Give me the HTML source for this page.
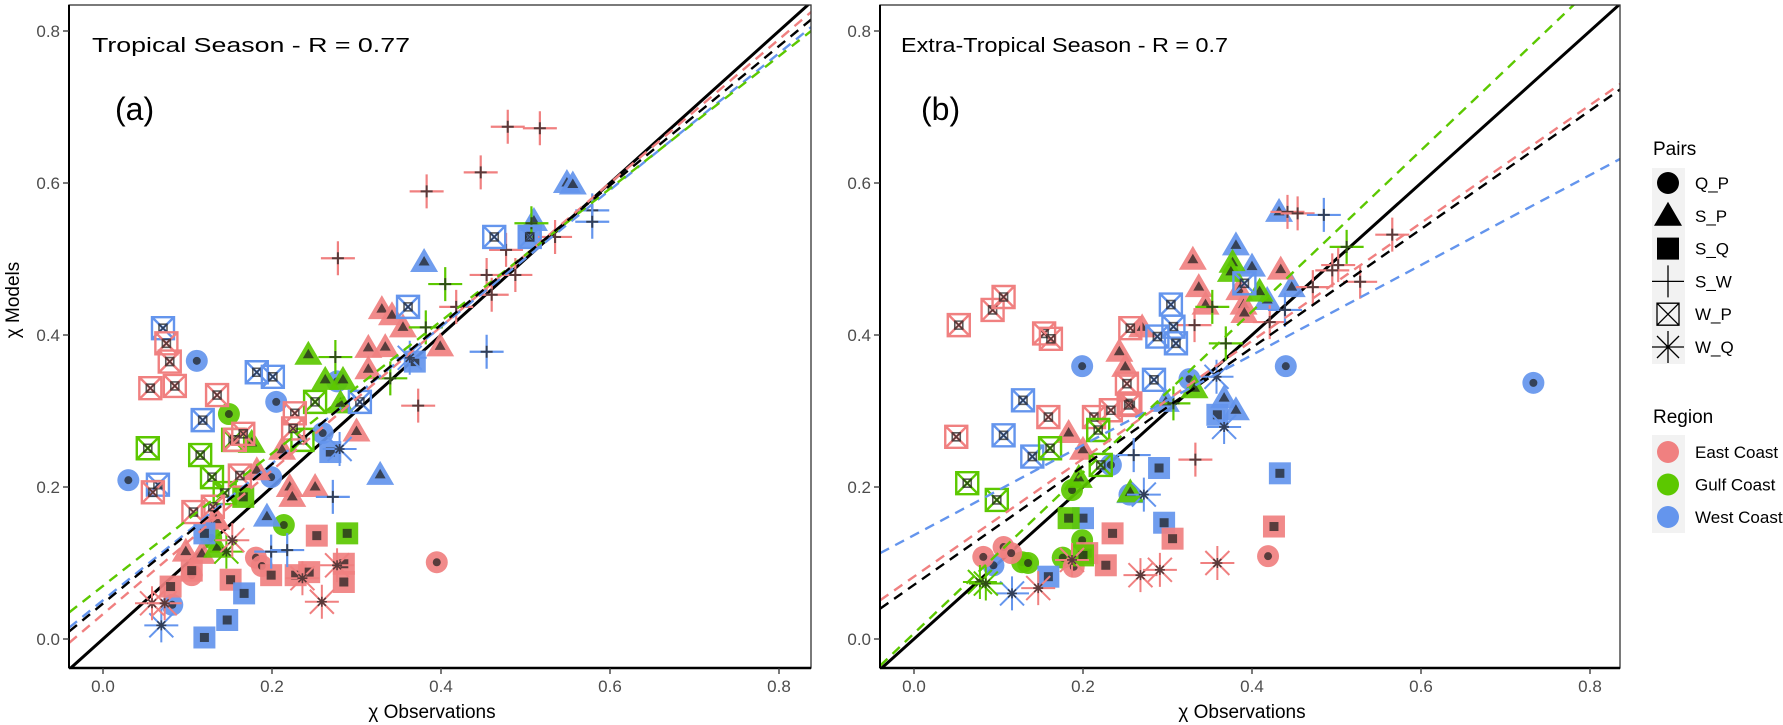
<!DOCTYPE html>
<html><head><meta charset="utf-8">
<style>
html,body{margin:0;padding:0;background:#fff;}
svg{display:block;font-family:"Liberation Sans",sans-serif;}
</style></head>
<body>
<svg id="chart" width="1783" height="725" viewBox="0 0 1783 725" xmlns="http://www.w3.org/2000/svg">
<defs>
<clipPath id="clipA"><rect x="69" y="5" width="742" height="663"/></clipPath>
<clipPath id="clipB"><rect x="880" y="5" width="740" height="663"/></clipPath>
</defs>
<g id="panelA"></g>
<g id="panelB"></g>
<g id="legend"></g>
</svg>
<script>
// ---------- data (values in chi units) ----------
const ticks = [0.0, 0.2, 0.4, 0.6, 0.8];
const tickLabels = ["0.0", "0.2", "0.4", "0.6", "0.8"];
const pairNames = ["Q_P", "S_P", "S_Q", "S_W", "W_P", "W_Q"];
const regionNames = ["East Coast", "Gulf Coast", "West Coast"];

// Panel (a) Tropical season: [region, obs, model]
const aQP = [["E",0.395,0.101],["E",0.181,0.107],["E",0.188,0.096],["E",0.105,0.084],["W",0.111,0.366],["W",0.205,0.312],["W",0.277,0.339],["W",0.26,0.271],["W",0.03,0.209],["W",0.199,0.213],["W",0.082,0.045],["G",0.149,0.296],["G",0.214,0.15],["G",0.128,0.133]];
const aSP = [["E",0.33,0.434],["E",0.342,0.426],["E",0.355,0.41],["E",0.314,0.383],["E",0.334,0.384],["E",0.399,0.385],["E",0.314,0.355],["E",0.3,0.273],["E",0.212,0.249],["E",0.182,0.222],["E",0.221,0.2],["E",0.251,0.2],["E",0.224,0.187],["E",0.132,0.159],["E",0.098,0.115],["E",0.117,0.112],["E",0.134,0.157],["W",0.549,0.6],["W",0.556,0.598],["W",0.38,0.496],["W",0.328,0.216],["W",0.194,0.161],["W",0.51,0.55],["G",0.243,0.374],["G",0.263,0.341],["G",0.284,0.341],["G",0.281,0.31],["G",0.176,0.258],["G",0.135,0.12]];
const aSQ = [["E",0.253,0.136],["E",0.199,0.084],["E",0.228,0.084],["E",0.244,0.088],["E",0.285,0.099],["E",0.285,0.075],["E",0.151,0.078],["E",0.08,0.069],["E",0.105,0.09],["W",0.505,0.53],["W",0.369,0.365],["W",0.269,0.246],["W",0.12,0.002],["W",0.147,0.025],["W",0.167,0.06],["W",0.12,0.139],["G",0.166,0.187],["G",0.289,0.139]];
const aSW = [["E",0.479,0.674],["E",0.517,0.672],["E",0.447,0.614],["E",0.383,0.589],["E",0.278,0.501],["E",0.477,0.512],["E",0.535,0.529],["E",0.488,0.479],["E",0.454,0.479],["E",0.46,0.453],["E",0.418,0.437],["E",0.373,0.307],["G",0.405,0.467],["G",0.382,0.41],["G",0.275,0.371],["G",0.507,0.547],["G",0.34,0.343],["W",0.579,0.564],["W",0.579,0.549],["W",0.454,0.378],["W",0.272,0.187],["W",0.199,0.115],["W",0.218,0.117]];
const aWP = [["W",0.463,0.529],["W",0.505,0.529],["W",0.361,0.437],["W",0.071,0.409],["W",0.182,0.351],["W",0.201,0.345],["W",0.118,0.288],["W",0.304,0.312],["W",0.065,0.203],["G",0.053,0.251],["G",0.115,0.242],["G",0.129,0.213],["G",0.144,0.192],["G",0.154,0.262],["G",0.251,0.312],["G",0.236,0.262],["E",0.075,0.389],["E",0.079,0.365],["E",0.056,0.33],["E",0.085,0.333],["E",0.135,0.321],["E",0.059,0.193],["E",0.227,0.297],["E",0.225,0.277],["E",0.156,0.262],["E",0.166,0.27],["E",0.107,0.167],["E",0.13,0.174],["E",0.162,0.215]];
const aWQ = [["W",0.363,0.37],["W",0.28,0.25],["W",0.069,0.018],["G",0.146,0.115],["E",0.058,0.047],["E",0.073,0.047],["E",0.236,0.08],["E",0.277,0.097],["E",0.259,0.049],["E",0.153,0.13]];
// fit lines panel (a): [region, y at x=-0.04, y at x=0.838]
const aFits = [["E",-0.005,0.825],["W",0.015,0.805],["G",0.035,0.8],["K",0.01,0.815]];

// Panel (b) Extra-tropical season
const bQP = [["W",0.199,0.359],["W",0.44,0.359],["W",0.326,0.342],["W",0.733,0.337],["W",0.233,0.229],["W",0.255,0.19],["W",0.094,0.097],["G",0.187,0.196],["G",0.199,0.13],["G",0.176,0.107],["G",0.128,0.101],["G",0.135,0.1],["E",0.106,0.121],["E",0.115,0.113],["E",0.419,0.109],["E",0.189,0.095],["E",0.082,0.108]];
const bSP = [["W",0.432,0.562],["W",0.381,0.518],["W",0.4,0.49],["W",0.447,0.463],["W",0.418,0.446],["W",0.367,0.317],["W",0.381,0.301],["W",0.298,0.312],["W",0.256,0.192],["E",0.33,0.499],["E",0.337,0.463],["E",0.345,0.44],["E",0.385,0.459],["E",0.39,0.44],["E",0.434,0.486],["E",0.391,0.429],["E",0.243,0.378],["E",0.25,0.358],["E",0.27,0.41],["E",0.183,0.271],["E",0.2,0.249],["G",0.377,0.495],["G",0.375,0.483],["G",0.409,0.457],["G",0.332,0.33],["G",0.195,0.212],["G",0.256,0.193]];
const bSQ = [["W",0.359,0.295],["W",0.29,0.225],["W",0.433,0.218],["W",0.2,0.159],["W",0.296,0.153],["W",0.159,0.082],["E",0.235,0.139],["E",0.306,0.132],["E",0.426,0.148],["E",0.227,0.097],["E",0.205,0.113],["G",0.183,0.159],["G",0.2,0.11]];
const bSW = [["E",0.442,0.562],["E",0.454,0.56],["E",0.566,0.532],["E",0.528,0.47],["E",0.502,0.492],["E",0.495,0.485],["E",0.472,0.463],["E",0.421,0.417],["E",0.332,0.413],["E",0.333,0.236],["W",0.485,0.558],["W",0.439,0.433],["W",0.26,0.242],["G",0.512,0.516],["G",0.353,0.437],["G",0.369,0.389],["G",0.307,0.31]];
const bWP = [["W",0.304,0.44],["W",0.307,0.411],["W",0.288,0.398],["W",0.31,0.389],["W",0.391,0.468],["W",0.284,0.341],["W",0.129,0.314],["W",0.106,0.268],["W",0.14,0.24],["E",0.053,0.413],["E",0.093,0.433],["E",0.106,0.45],["E",0.154,0.402],["E",0.162,0.395],["E",0.256,0.409],["E",0.252,0.336],["E",0.256,0.31],["E",0.05,0.266],["E",0.159,0.292],["E",0.213,0.292],["E",0.233,0.301],["E",0.254,0.308],["G",0.063,0.205],["G",0.098,0.183],["G",0.161,0.251],["G",0.218,0.275],["G",0.221,0.229]];
const bWQ = [["W",0.358,0.345],["W",0.367,0.279],["W",0.272,0.19],["W",0.116,0.06],["G",0.078,0.075],["G",0.085,0.073],["E",0.147,0.067],["E",0.268,0.084],["E",0.291,0.091],["E",0.359,0.1],["E",0.187,0.104]];
const bFits = [["E",0.051,0.732],["K",0.04,0.725],["W",0.113,0.633],["G",-0.035,0.895]];

// ---------- rendering ----------
const NS = "http://www.w3.org/2000/svg";
const COL = {E:"#F08080", G:"#5CC800", W:"#6495ED", K:"#000"};
const DARK = "rgba(30,30,30,0.72)";
const YMIN=-0.04, YMAX=0.838;
function yScale(v){ return 639 - 760*v; }
function mk(tag, attrs, parent){
  const e=document.createElementNS(NS,tag);
  for(const k in attrs) e.setAttribute(k,attrs[k]);
  if(parent) parent.appendChild(e);
  return e;
}
function drawMarker(g, type, x, y, c){
  const grp = mk("g",{},g);
  
  
  if(type==="Q_P"){
    mk("circle",{cx:x,cy:y,r:11,fill:c,"fill-opacity":0.92},grp);
    mk("circle",{cx:x,cy:y,r:4,fill:DARK},grp);
  } else if(type==="S_P"){
    mk("polygon",{points:`${x},${y-14} ${x-14},${y+10} ${x+14},${y+10}`,fill:c,"fill-opacity":0.92},grp);
    mk("polygon",{points:`${x},${y-6} ${x-5.5},${y+3.5} ${x+5.5},${y+3.5}`,fill:DARK},grp);
  } else if(type==="S_Q"){
    mk("rect",{x:x-11,y:y-11,width:22,height:22,fill:c,"fill-opacity":0.92},grp);
    mk("rect",{x:x-4.5,y:y-4.5,width:9,height:9,fill:DARK},grp);
  } else if(type==="S_W"){
    mk("path",{d:`M${x-17},${y}H${x+17}M${x},${y-17}V${y+17}`,stroke:c,"stroke-width":2.2,fill:"none"},grp);
    mk("path",{d:`M${x-6},${y}H${x+6}M${x},${y-6}V${y+6}`,stroke:DARK,"stroke-width":2,fill:"none"},grp);
  } else if(type==="W_P"){
    mk("path",{d:`M${x-11},${y-11}h22v22h-22zM${x-11},${y-11}L${x+11},${y+11}M${x+11},${y-11}L${x-11},${y+11}`,stroke:c,"stroke-width":2.4,fill:"none"},grp);
    mk("path",{d:`M${x-4},${y-4}h8v8h-8zM${x-4},${y-4}L${x+4},${y+4}M${x+4},${y-4}L${x-4},${y+4}`,stroke:DARK,"stroke-width":1.6,fill:"none"},grp);
  } else {
    const r=17, d=12;
    mk("path",{d:`M${x-r},${y}H${x+r}M${x},${y-r}V${y+r}M${x-d},${y-d}L${x+d},${y+d}M${x+d},${y-d}L${x-d},${y+d}`,stroke:c,"stroke-width":2,fill:"none"},grp);
    mk("path",{d:`M${x-5},${y}H${x+5}M${x},${y-5}V${y+5}M${x-4},${y-4}L${x+4},${y+4}M${x+4},${y-4}L${x-4},${y+4}`,stroke:DARK,"stroke-width":1.6,fill:"none"},grp);
  }
}
function drawPanel(g, X0, left, right, clip, series, fits, title, tag, titleX, tagX, titleLen){
  const xs = v => X0 + 845*v;
  // title & tag
  const t = mk("text",{x:titleX,y:52,"font-size":20,fill:"#000",textLength:titleLen,lengthAdjust:"spacingAndGlyphs"},g);
  t.textContent = title;
  
  
  const tg = mk("text",{x:tagX,y:120,"font-size":32,fill:"#000"},g);
  tg.textContent = tag;
  
  
  const pg = mk("g",{"clip-path":`url(#${clip})`},g);
  
  
  // 1:1 line
  const one = mk("line",{x1:xs(YMIN),y1:yScale(YMIN),x2:xs(YMAX),y2:yScale(YMAX),stroke:"#000","stroke-width":3},pg);
  
  
  // points
  series.forEach((arr,i)=>{
    arr.forEach(p=>drawMarker(pg, pairNames[i], xs(p[1]), yScale(p[2]), COL[p[0]]));
  });
  // fit lines
  fits.forEach(f=>{
    const l = mk("line",{x1:xs(YMIN),y1:yScale(f[1]),x2:xs(YMAX),y2:yScale(f[2]),stroke:COL[f[0]],"stroke-width":2.4,"stroke-dasharray":"10,7"},pg);
    
    
  });
  // frame
  const fr = mk("rect",{x:left,y:5,width:right-left,height:663,fill:"none",stroke:"#333","stroke-width":1.3},g);
  
  
  mk("line",{x1:left,y1:668,x2:right,y2:668,stroke:"#000","stroke-width":2.5},g);
  mk("line",{x1:left,y1:5,x2:left,y2:668,stroke:"#000","stroke-width":2},g);
  // ticks
  ticks.forEach((v,i)=>{
    mk("line",{x1:xs(v),y1:668,x2:xs(v),y2:674,stroke:"#333","stroke-width":1.3},g);
    const xl = mk("text",{x:xs(v),y:692,"font-size":17,fill:"#4d4d4d","text-anchor":"middle"},g);
    xl.textContent = tickLabels[i];
    
    
    mk("line",{x1:left-6,y1:yScale(v),x2:left,y2:yScale(v),stroke:"#333","stroke-width":1.3},g);
    const yl = mk("text",{x:left-9,y:yScale(v)+6,"font-size":17,fill:"#4d4d4d","text-anchor":"end"},g);
    yl.textContent = tickLabels[i];
    
    
  });
  const xt = mk("text",{x:(left+right)/2-8,y:718,"font-size":19,fill:"#000","text-anchor":"middle"},g);
  xt.textContent = "χ  Observations";
  
  
}
drawPanel(document.getElementById("panelA"),103,69,811,"clipA",[aQP,aSP,aSQ,aSW,aWP,aWQ],aFits,"Tropical Season -  R =  0.77","(a)",92,115,318);
drawPanel(document.getElementById("panelB"),914,880,1620,"clipB",[bQP,bSP,bSQ,bSW,bWP,bWQ],bFits,"Extra-Tropical Season -  R =  0.7","(b)",901,921,327);
// y title
const yt = mk("text",{x:0,y:0,"font-size":19,fill:"#000","text-anchor":"middle",transform:"translate(19,300) rotate(-90)"},document.getElementById("panelA"));
yt.textContent = "χ  Models";



// legend
const L = document.getElementById("legend");
const lt = mk("text",{x:1653,y:155,"font-size":19,fill:"#000"},L);
lt.textContent="Pairs";


mk("rect",{x:1652,y:168,width:33,height:196,fill:"#f2f2f2"},L);
pairNames.forEach((n,i)=>{
  const y=183+i*32.8;
  const eg = mk("g",{},L);
  
  
  const x=1668;
  if(n==="Q_P") mk("circle",{cx:x,cy:y,r:11,fill:"#000"},eg);
  else if(n==="S_P") mk("polygon",{points:`${x},${y-14} ${x-14},${y+10} ${x+14},${y+10}`,fill:"#000"},eg);
  else if(n==="S_Q") mk("rect",{x:x-11,y:y-11,width:22,height:22,fill:"#000"},eg);
  else if(n==="S_W") mk("path",{d:`M${x-16},${y}H${x+16}M${x},${y-16}V${y+16}`,stroke:"#000","stroke-width":1.3,fill:"none"},eg);
  else if(n==="W_P") mk("path",{d:`M${x-11},${y-11}h22v22h-22zM${x-11},${y-11}L${x+11},${y+11}M${x+11},${y-11}L${x-11},${y+11}`,stroke:"#000","stroke-width":1.3,fill:"none"},eg);
  else mk("path",{d:`M${x-16},${y}H${x+16}M${x},${y-16}V${y+16}M${x-11},${y-11}L${x+11},${y+11}M${x+11},${y-11}L${x-11},${y+11}`,stroke:"#000","stroke-width":1.3,fill:"none"},eg);
  const tx = mk("text",{x:1695,y:y+6,"font-size":17,fill:"#000"},eg);
  tx.textContent=n;
});
const rt = mk("text",{x:1653,y:423,"font-size":19,fill:"#000"},L);
rt.textContent="Region";


mk("rect",{x:1652,y:435,width:33,height:98,fill:"#f2f2f2"},L);
["E","G","W"].forEach((r,i)=>{
  const y=452+i*32.5;
  const eg = mk("g",{},L);
  
  
  mk("circle",{cx:1668,cy:y,r:11,fill:COL[r]},eg);
  const tx = mk("text",{x:1695,y:y+6,"font-size":17,fill:"#000"},eg);
  tx.textContent=regionNames[i];
});
</script>
</body></html>
